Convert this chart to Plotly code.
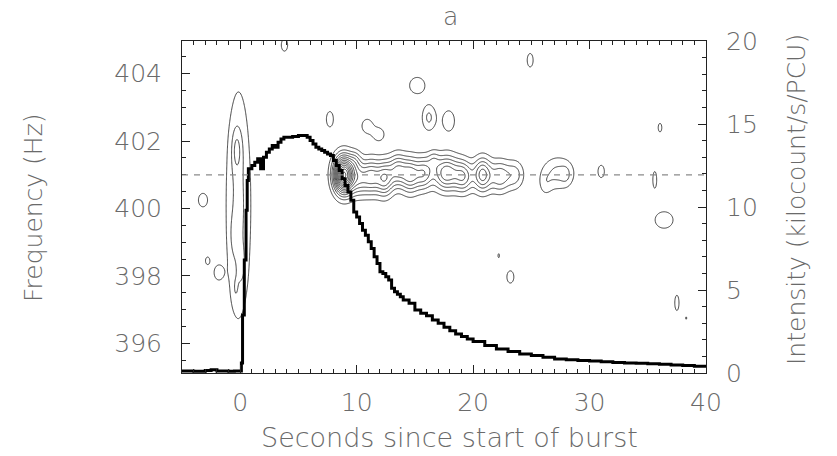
import numpy as np
import plotly.graph_objects as go

# ---------------- data ----------------
# Light curve (step starts, seconds) and intensity (kilocount/s/PCU)
time_s = [-5.0, -4.0, -3.0, -2.5, -2.0, -1.0, -0.5, 0.1, 0.2, 0.35, 0.5, 0.6, 0.7,
          1.0, 1.25, 1.5, 1.75, 2.0, 2.25, 2.5, 2.75, 3.0, 3.25, 3.5, 3.75, 4.0, 4.5,
          5.0, 5.5, 5.75, 6.0, 6.25, 6.5, 6.75, 7.0, 7.25, 7.5, 7.75, 8.0, 8.25, 8.5,
          8.75, 9.0, 9.25, 9.5, 9.75, 10.0, 10.25, 10.5, 10.75, 11.0, 11.25, 11.5,
          11.75, 12.0, 12.25, 12.5, 12.75, 13.0, 13.25, 13.5, 13.75, 14.0, 14.5, 15.0,
          15.5, 16.0, 16.5, 17.0, 17.5, 18.0, 18.5, 19.0, 19.5, 20.0, 21.0, 22.0, 23.0,
          24.0, 25.0, 26.0, 27.0, 28.0, 29.0, 30.0, 31.0, 32.0, 33.0, 34.0, 35.0, 36.0,
          37.0, 38.0, 39.0, 40.0]
intensity = [0.12, 0.10, 0.15, 0.20, 0.12, 0.10, 0.12, 0.6, 3.5, 6.8, 9.8, 11.6, 12.3,
             12.5, 12.7, 12.9, 12.3, 13.0, 13.3, 13.5, 13.7, 13.6, 13.9, 14.1, 14.2, 14.2, 14.25,
             14.3, 14.3, 14.2, 14.0, 13.8, 13.6, 13.5, 13.4, 13.3, 13.2, 13.1, 12.8, 12.5, 12.2,
             11.7, 11.3, 10.9, 10.4, 9.7, 9.4, 9.0, 8.6, 8.3, 7.9, 7.5, 7.0,
             6.6, 6.1, 6.0, 5.8, 5.6, 5.1, 4.9, 4.75, 4.6, 4.4, 4.2, 3.8,
             3.6, 3.45, 3.2, 3.0, 2.75, 2.55, 2.35, 2.2, 2.05, 1.9, 1.65, 1.45, 1.3,
             1.15, 1.05, 0.95, 0.85, 0.8, 0.75, 0.72, 0.68, 0.64, 0.6, 0.58, 0.55, 0.52,
             0.48, 0.45, 0.40, 0.38]

# Dynamic power spectrum features read from the contour map:
# centre time (s), centre frequency (Hz), width in time, width in frequency, peak power
blob_t = [8.9, 9.9, 10.3, 11.3, 12.4, 13.5, 14.6, 15.8, 16.6, 17.7, 19.2, 20.8, 22.3, 23.6,
          27.3, 26.2, 28.0, 31.0, 35.6,
          -0.15, -0.3, -0.5, 0.1, -0.4,
          -3.2, -2.8, -1.9, 3.8, 7.7, 10.9, 11.9, 15.2, 16.2, 17.9, 24.9, 36.05,
          22.2, 23.2, 36.4, 37.5, 38.3]
blob_f = [401.0, 401.45, 400.9, 400.95, 400.9, 401.15, 401.0, 401.05, 401.45, 401.05, 400.95, 401.0, 400.95, 401.0,
          401.05, 400.7, 401.0, 401.1, 400.85,
          400.1, 401.75, 399.2, 398.3, 397.6,
          400.25, 398.45, 398.1, 404.85, 402.65, 402.45, 402.2, 403.65, 402.7, 402.6, 404.4, 402.4,
          398.6, 397.97, 399.66, 397.2, 396.75]
blob_wt = [0.6, 0.35, 0.6, 0.5, 0.55, 0.5, 0.6, 0.5, 0.35, 0.8, 0.55, 0.55, 0.6, 0.55,
           1.0, 0.4, 0.3, 0.3, 0.2,
           0.82, 0.3, 0.25, 0.25, 0.2,
           0.43, 0.2, 0.35, 0.3, 0.33, 0.45, 0.45, 0.6, 0.45, 0.55, 0.28, 0.17,
           0.1, 0.33, 0.85, 0.2, 0.08]
blob_wf = [0.38, 0.2, 0.36, 0.36, 0.36, 0.33, 0.36, 0.33, 0.2, 0.36, 0.33, 0.35, 0.33, 0.3,
           0.35, 0.25, 0.2, 0.2, 0.3,
           2.6, 0.45, 0.4, 0.4, 0.3,
           0.22, 0.12, 0.2, 0.2, 0.25, 0.2, 0.18, 0.22, 0.3, 0.33, 0.22, 0.14,
           0.1, 0.2, 0.27, 0.25, 0.06]
blob_amp = [13.0, 1.5, 4.2, 4.0, 5.6, 4.0, 5.4, 4.0, 1.5, 5.8, 4.2, 5.4, 3.6, 2.4,
            2.3, 1.0, 0.8, 1.5, 1.4,
            2.3, 1.6, 0.8, 0.8, 0.7,
            1.5, 1.5, 1.5, 1.5, 1.5, 1.6, 1.6, 1.8, 2.2, 1.5, 1.5, 1.5,
            1.2, 1.5, 1.5, 1.5, 1.2]

spin_freq = 401.0
x_range = [-5, 40]
freq_range = [395.12, 404.97]
int_range = [0, 20]

# ---------------- build power map ----------------
tg = np.arange(-5.0, 40.01, 0.05)
fg = np.arange(395.0, 405.01, 0.025)
T, F = np.meshgrid(tg, fg)
Z = np.zeros_like(T)
for t0, f0, wt, wf, a in zip(blob_t, blob_f, blob_wt, blob_wf, blob_amp):
    Z += a * np.exp(-0.5 * (((T - t0) / wt) ** 2 + ((F - f0) / wf) ** 2))

FONT = "DejaVu Sans ExtraLight, DejaVu Sans"
TXT = "#6a6a6a"
TW = 200

fig = go.Figure()
fig.add_trace(go.Contour(
    x=tg, y=fg, z=Z,
    contours=dict(coloring="lines", start=1, end=14, size=1),
    colorscale=[[0, "#3c3c3c"], [1, "#3c3c3c"]],
    line=dict(width=1), showscale=False, hoverinfo="skip",
    xaxis="x", yaxis="y",
))
fig.add_trace(go.Scatter(
    x=time_s, y=intensity, mode="lines", line=dict(color="black", width=3, shape="hv"),
    xaxis="x", yaxis="y2", showlegend=False,
))

fig.add_shape(type="line", xref="x domain", x0=0, x1=1, yref="y", y0=spin_freq, y1=spin_freq,
              line=dict(color="#8a8a8a", width=1.3, dash="6px,6px"), layer="above")

axis_common = dict(showline=True, linecolor="#222", linewidth=1, ticks="inside",
                   tickcolor="#222", showgrid=False, zeroline=False,
                   tickfont=dict(family=FONT, size=25, color=TXT, weight=TW))

def ann(text, px, py, size, angle=0):
    return dict(text=text, xref="paper", yref="paper", x=(px - 182) / 524, y=(373 - py) / 332,
                xanchor="center", yanchor="middle", showarrow=False, textangle=angle,
                font=dict(family=FONT, size=size, color=TXT, weight=TW))

fig.update_layout(
    width=837, height=456,
    margin=dict(l=182, r=131, t=41, b=83),
    paper_bgcolor="white", plot_bgcolor="white",
    showlegend=False,
    xaxis=dict(range=x_range, dtick=10, tick0=0, ticklen=8, mirror="ticks",
               minor=dict(dtick=1, ticklen=4, ticks="inside", tickcolor="#222"),
               ticklabelstandoff=7, **axis_common),
    yaxis=dict(range=freq_range, dtick=2, tick0=396, ticklen=8,
               minor=dict(dtick=0.5, ticklen=4, ticks="inside", tickcolor="#222"),
               ticklabelstandoff=14, **axis_common),
    yaxis2=dict(range=int_range, dtick=5, tick0=0, ticklen=8, overlaying="y", side="right",
                minor=dict(dtick=1, ticklen=4, ticks="inside", tickcolor="#222"),
                ticklabelstandoff=14, **axis_common),
    annotations=[
        ann("a", 450, 17, 25),
        ann("Seconds since start of burst", 449, 437, 27),
        ann("Frequency (Hz)", 33, 208, 25, -90),
        ann("Intensity (kilocount/s/PCU)", 796, 200, 25, -90),
    ],
)

fig.write_html("out.html")
